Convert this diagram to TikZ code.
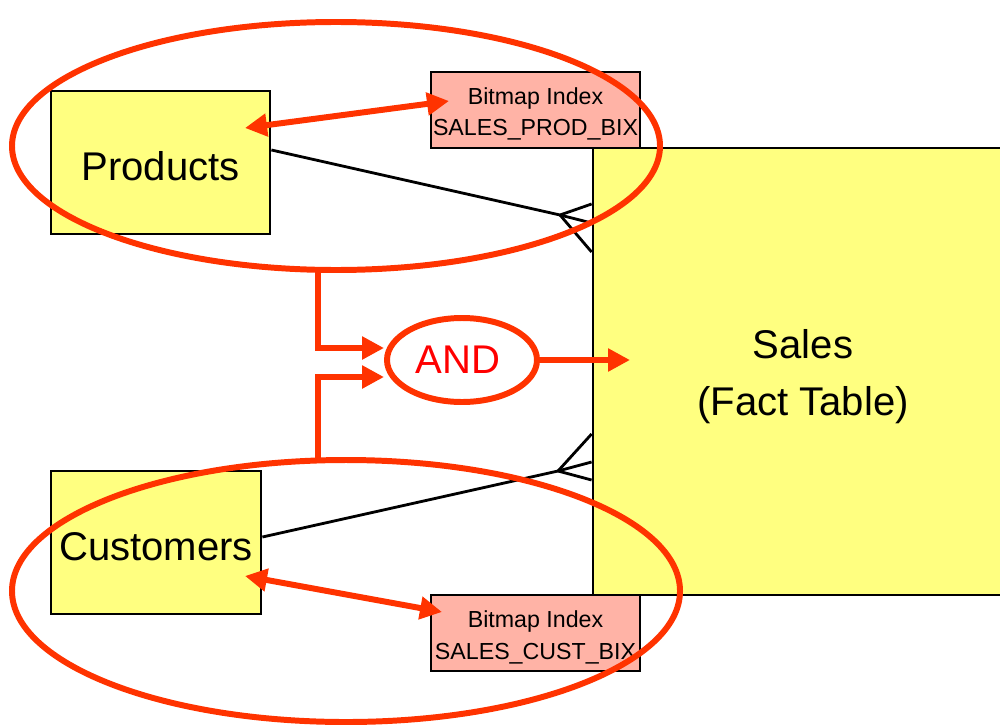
\documentclass[tikz,border=0pt]{standalone}
\usepackage{fontspec}
\setmainfont{Liberation Sans}
\usepackage{tikz}
\usetikzlibrary{arrows.meta,positioning,shapes.geometric,calc}

\definecolor{tableyellow}{HTML}{FFFF80}
\definecolor{indexpink}{HTML}{FFB3A6}
\definecolor{markred}{HTML}{FF3300}

% strut that pushes the first text line down a little
\newcommand{\toplift}[1]{\rule{0pt}{#1}}

\begin{document}
\begin{tikzpicture}[
    >={Triangle[length=2.2mm,width=2.2mm]},
    tablebox/.style={draw=black, line width=0.8pt, fill=tableyellow, inner sep=0pt,
                     align=center, font=\fontsize{11.4}{16.2}\selectfont},
    indexbox/.style={draw=black, line width=0.8pt, fill=indexpink, inner sep=0pt,
                     minimum width=2.09cm, minimum height=0.76cm,
                     align=center, font=\fontsize{6.6}{9.1}\selectfont},
    relline/.style={line width=0.8pt, black},
    groupring/.style={ellipse, draw=markred, line width=1.7pt, inner sep=0pt},
    andring/.style={ellipse, draw=markred, line width=1.7pt, inner sep=0pt, text=red,
                    minimum width=1.5cm, minimum height=0.84cm,
                    font=\fontsize{11.4}{13}\selectfont},
    linkarrow/.style={<->, line width=1.7pt, markred},
    selarrow/.style={->, line width=1.7pt, markred},
]
\useasboundingbox (0,0) rectangle (10,7.24);

% tables
\node[tablebox, minimum width=2.19cm, minimum height=1.43cm] (prod) at (1.605,5.615) {\toplift{10.6pt}Products};
\node[tablebox, minimum width=2.10cm, minimum height=1.43cm] (cust) at (1.56,1.815) {\toplift{10.6pt}Customers};
\node[tablebox, minimum width=4.20cm, minimum height=4.47cm] (sales) at (8.03,3.525) {\toplift{11pt}Sales\\(Fact Table)};

% bitmap indexes
\node[indexbox] (prodbix) at (5.355,6.14) {\toplift{7pt}Bitmap Index\\SALES\_PROD\_BIX};
\node[indexbox] (custbix) at (5.355,0.91) {\toplift{7pt}Bitmap Index\\SALES\_CUST\_BIX};

% one-to-many links with crow's feet
\coordinate (prodfoot) at (5.60,5.09);
\coordinate (custfoot) at (5.58,2.53);
\draw[relline] ([yshift=1.25mm]prod.east) -- (prodfoot);
\draw[relline] (prodfoot) -- (sales.west |- 0,5.20);
\draw[relline] (prodfoot) -- (sales.west |- 0,5.01);
\draw[relline] (prodfoot) -- (sales.west |- 0,4.72);
\draw[relline] ([yshift=0.55mm]cust.east) -- (custfoot);
\draw[relline] (custfoot) -- (sales.west |- 0,2.90);
\draw[relline] (custfoot) -- (sales.west |- 0,2.62);
\draw[relline] (custfoot) -- (sales.west |- 0,2.44);

% dimension groups
\node[groupring, minimum width=6.48cm, minimum height=2.48cm] (prodgrp) at (3.36,5.78) {};
\node[groupring, minimum width=6.68cm, minimum height=2.62cm] (custgrp) at (3.46,1.33) {};

% index lookups
\coordinate (prodhit) at (2.45,5.96);
\coordinate (prodbixhit) at (4.49,6.23);
\coordinate (custhit) at (2.45,1.48);
\coordinate (custbixhit) at (4.42,1.12);
\draw[linkarrow] (prodhit) -- (prodbixhit);
\draw[linkarrow] (custhit) -- (custbixhit);

% combine both bitmaps
\node[andring] (andop) at (4.62,3.64) {AND\hspace*{0.8mm}};
\coordinate (prodout) at (3.18,4.54);
\coordinate (custout) at (3.18,2.64);
\coordinate (salesin) at (6.30,3.64);
\draw[selarrow] (prodout) |- ([yshift=1.2mm]andop.west);
\draw[selarrow] (custout) |- ([yshift=-1.7mm]andop.west);
\draw[selarrow] (andop.east) -- (salesin);
\end{tikzpicture}
\end{document}
